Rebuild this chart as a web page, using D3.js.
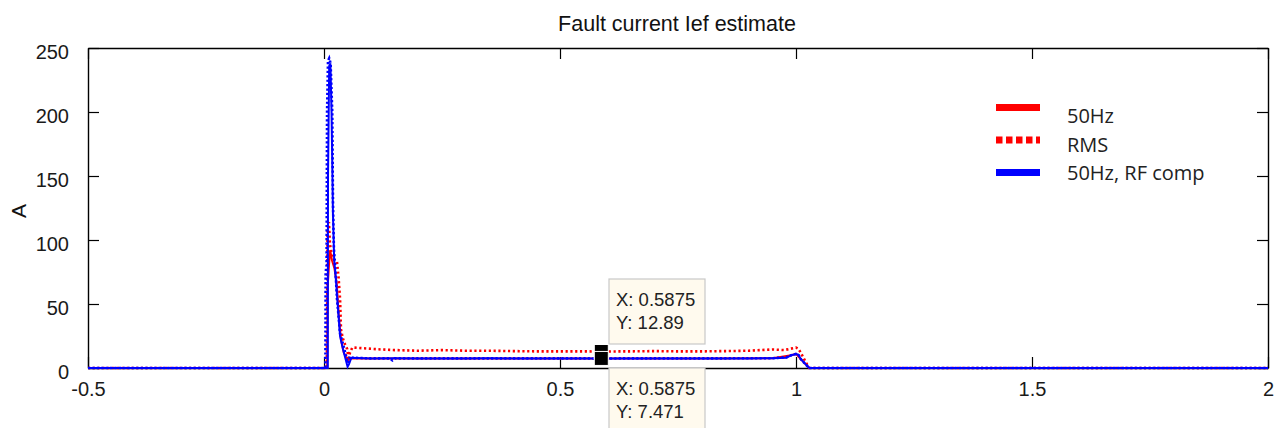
<!DOCTYPE html>
<html>
<head>
<meta charset="utf-8">
<script src="https://cdn.jsdelivr.net/npm/d3@7"></script>
<style>
  html, body { margin: 0; padding: 0; background: #fff; }
  svg { display: block; }
</style>
</head>
<body>
<svg id="chart" width="1282" height="428"></svg>
<script>
// ---- data -------------------------------------------------------------
const xTicks = [-0.5, 0, 0.5, 1, 1.5, 2];
const yTicks = [0, 50, 100, 150, 200, 250];

// 50Hz estimate (red solid)
const t50 = [-0.5, 0.007, 0.0075, 0.0105, 0.013, 0.017, 0.022, 0.027, 0.031, 0.036, 0.042, 0.05, 0.06, 0.2, 0.4, 0.6, 0.8, 0.95, 0.99, 1.0, 1.01, 1.02, 1.028, 2];
const v50 = [0, 0, 62, 80, 92, 84, 78, 66, 42, 22, 12, 6, 7.5, 7.5, 7.5, 7.5, 7.5, 7.6, 10, 11, 7, 3, 0, 0];

// RMS estimate (red dotted)
const tRMS = [-0.5, 0.006, 0.0075, 0.0105, 0.0125, 0.017, 0.0225, 0.0275, 0.031, 0.034, 0.036, 0.04, 0.045, 0.049, 0.052, 0.055, 0.06, 0.08, 0.1, 0.12, 0.15, 0.2, 0.25, 0.3, 0.35, 0.4, 0.45, 0.5, 0.55, 0.5875, 0.65, 0.7, 0.75, 0.8, 0.85, 0.9, 0.95, 0.975, 1.0, 1.005, 1.01, 1.02, 1.028, 2];
const vRMS = [0, 0, 108, 114, 97, 87, 84, 83, 70, 54, 30, 23, 18, 15, 6, 12, 16, 15.5, 15, 14.5, 14, 13.5, 14, 13.5, 13.5, 13.2, 13, 13, 13, 12.89, 13, 13.2, 13, 13, 13.2, 13.5, 14.5, 14, 16, 15, 12, 5, 0, 0];

// 50Hz estimate with RF compensation (blue solid)
const t50RF = [-0.5, 0.008, 0.0085, 0.011, 0.0135, 0.016, 0.019, 0.0215, 0.025, 0.03, 0.034, 0.04, 0.045, 0.05, 0.053, 0.058, 0.1, 0.15, 0.2, 0.25, 0.3, 0.35, 0.4, 0.45, 0.5, 0.5875, 0.65, 0.7, 0.75, 0.8, 0.85, 0.9, 0.95, 0.98, 0.99, 1.0, 1.005, 1.01, 1.02, 1.028, 2];
const v50RF = [0, 0, 150, 236, 238, 200, 120, 85, 70, 45, 25, 15, 8, 1, 3, 8, 7.5, 7.6, 7.4, 7.5, 7.5, 7.6, 7.5, 7.5, 7.5, 7.471, 7.5, 7.5, 7.5, 7.5, 7.5, 7.5, 7.6, 8, 10, 11, 10.5, 7, 3, 0, 0];

// RMS estimate with RF compensation (blue dotted)
const tRMSRF = [-0.5, 0.003, 0.0035, 0.0055, 0.0065, 0.0085, 0.011, 0.014, 0.0175, 0.019, 0.021, 0.0245, 0.0275, 0.031, 0.034, 0.04, 0.045, 0.05, 0.055, 0.06, 0.1, 0.14, 0.145, 0.15, 0.2, 0.3, 0.4, 0.5, 0.5875, 0.7, 0.8, 0.9, 0.95, 0.98, 0.99, 1.0, 1.005, 1.01, 1.02, 1.028, 2];
const vRMSRF = [0, 0, 75, 80, 200, 240, 242, 238, 200, 130, 93, 75, 54, 40, 27, 19, 12, 4, 9, 8, 7.5, 7.5, 6, 7.5, 7.5, 7.5, 7.5, 7.5, 7.471, 7.5, 7.5, 7.6, 7.6, 8.5, 10, 11, 10.5, 7, 3, 0, 0];

const legendLabels = ["50Hz", "RMS", "50Hz, RF comp"];

// data tips: [x, y]
const tipX = [0.5875, 0.5875];
const tipY = [12.89, 7.471];

// ---- layout -----------------------------------------------------------
const svg = d3.select("#chart");
const L = 88, R = 1268, T = 48, B = 368;
const x = d3.scaleLinear().domain([-0.5, 2]).range([L, R]);
const y = d3.scaleLinear().domain([0, 250]).range([B, T]);
const tickFont = "'Liberation Sans', Arial, sans-serif";
const fmt = d => String(d);   // plain hyphen-minus, e.g. "-0.5"

// title
svg.append("text")
  .attr("x", (L + R) / 2 - 1).attr("y", 31)
  .attr("text-anchor", "middle")
  .style("font-family", tickFont).style("font-size", "21.5px").style("fill", "#111")
  .text("Fault current Ief estimate");

// y label
svg.append("text")
  .attr("transform", `translate(26,${(T + B) / 2 + 3}) rotate(-90)`)
  .attr("text-anchor", "middle")
  .style("font-family", tickFont).style("font-size", "21px").style("fill", "#111")
  .text("A");

// axes with inward ticks on all four sides
const tl = 11;
const axB = d3.axisBottom(x).tickValues(xTicks).tickSizeInner(-tl).tickSizeOuter(0).tickPadding(14).tickFormat(fmt);
const axL = d3.axisLeft(y).tickValues(yTicks).tickSizeInner(-tl).tickSizeOuter(0).tickPadding(19).tickFormat(fmt);
const axT = d3.axisTop(x).tickValues(xTicks).tickSizeInner(-tl).tickSizeOuter(0).tickFormat("");
const axR = d3.axisRight(y).tickValues(yTicks).tickSizeInner(-tl).tickSizeOuter(0).tickFormat("");

const gB = svg.append("g").attr("transform", `translate(0,${B})`).call(axB);
const gL = svg.append("g").attr("transform", `translate(${L},0)`).call(axL);
const gT = svg.append("g").attr("transform", `translate(0,${T})`).call(axT);
const gR = svg.append("g").attr("transform", `translate(${R},0)`).call(axR);

[gB, gL, gT, gR].forEach(g => {
  g.select(".domain").attr("stroke", "#000").attr("stroke-width", 1.4);
  g.selectAll(".tick line").attr("stroke", "#000").attr("stroke-width", 1.2);
  g.selectAll("text").style("font-family", tickFont).style("font-size", "20px").attr("fill", "#1a1a1a");
});
gB.selectAll(".tick text").attr("dy", "0.71em");
gL.selectAll(".tick text").attr("dy", "0.5em");

// ---- series -----------------------------------------------------------
const line = d3.line().x(d => x(d[0])).y(d => y(d[1]));
const zip = (t, v) => t.map((ti, i) => [ti, v[i]]);

const series = [
  { data: zip(t50, v50), color: "#ff0000", dash: null, w: 2 },
  { data: zip(tRMS, vRMS), color: "#ff0000", dash: "2.2,2.6", w: 2.6 },
  { data: zip(t50RF, v50RF), color: "#0000ff", dash: null, w: 2 },
  { data: zip(tRMSRF, vRMSRF), color: "#0000ff", dash: "2.2,2.2", w: 2.6 }
];

svg.append("g").selectAll("path").data(series).join("path")
  .attr("d", d => line(d.data))
  .attr("fill", "none")
  .attr("stroke", d => d.color)
  .attr("stroke-width", d => d.w)
  .attr("stroke-dasharray", d => d.dash);

// ---- legend -----------------------------------------------------------
const legendLines = [
  { color: "#ff0000", dash: null, ly: 107.5, ty: 123 },
  { color: "#ff0000", dash: "6.5,3.5", ly: 140, ty: 151.5 },
  { color: "#0000ff", dash: null, ly: 172.4, ty: 180 }
];
const lg = svg.append("g");
lg.selectAll("line").data(legendLines).join("line")
  .attr("x1", 996).attr("x2", 1040)
  .attr("y1", d => d.ly).attr("y2", d => d.ly)
  .attr("stroke", d => d.color).attr("stroke-width", 7)
  .attr("stroke-dasharray", d => d.dash);
lg.selectAll("text").data(legendLines).join("text")
  .attr("x", 1067).attr("y", d => d.ty)
  .style("font-family", "'Open Sans', sans-serif").style("font-size", "20px").style("fill", "#222")
  .text((d, i) => legendLabels[i]);

// ---- data tips --------------------------------------------------------
const tipFont = "'Liberation Sans', Arial, sans-serif";
const tips = [
  { i: 0, bx: 609, by: 279, bh: 65 },
  { i: 1, bx: 609, by: 368, bh: 70 }
];
const tg = svg.append("g");
tips.forEach(tp => {
  const g = tg.append("g");
  g.append("rect")
    .attr("x", tp.bx).attr("y", tp.by).attr("width", 96).attr("height", tp.bh)
    .attr("fill", "#fffaee").attr("stroke", "#c8c8c8").attr("stroke-width", 1.2);
  g.append("text").attr("x", tp.bx + 7).attr("y", tp.by + 27)
    .style("font-family", tipFont).style("font-size", "18.5px").style("fill", "#222")
    .text("X: " + tipX[tp.i]);
  g.append("text").attr("x", tp.bx + 7).attr("y", tp.by + 50)
    .style("font-family", tipFont).style("font-size", "18.5px").style("fill", "#222")
    .text("Y: " + tipY[tp.i]);
});
// markers at the tipped points
tg.selectAll("rect.mk").data(tipX.map((d, i) => [d, tipY[i]])).join("rect")
  .attr("class", "mk")
  .attr("x", d => x(d[0]) - 7).attr("y", d => y(d[1]) - 7)
  .attr("width", 14).attr("height", 14)
  .attr("fill", "#000").attr("stroke", "#fff").attr("stroke-width", 1);
</script>
</body>
</html>
